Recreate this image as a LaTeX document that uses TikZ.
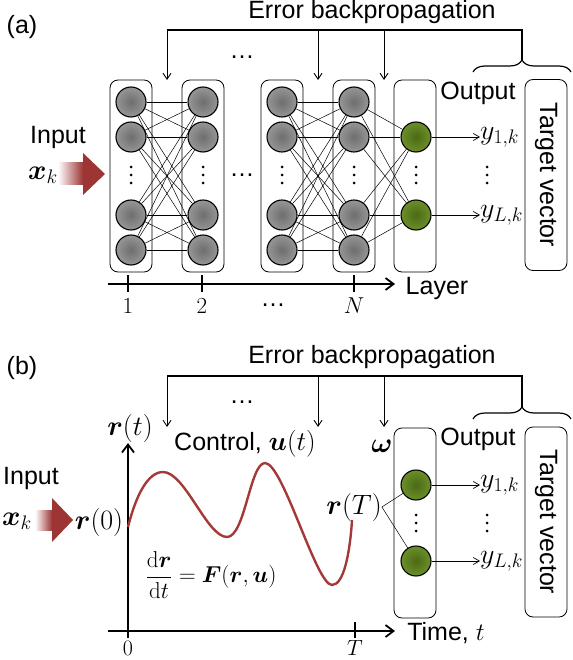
\RequirePackage{fix-cm}
\documentclass[tikz,border=0pt]{standalone}
\usepackage{amsmath}
\usepackage[no-math]{fontspec}
\setmainfont{Liberation Sans}
\usetikzlibrary{arrows.meta,decorations.pathreplacing}
\definecolor{nodeinner}{HTML}{6E6E6E}
\definecolor{nodeouter}{HTML}{969696}
\definecolor{greeninner}{HTML}{4A6A14}
\definecolor{greenouter}{HTML}{6C8F2A}
\definecolor{arrowred}{HTML}{9C3533}
\definecolor{curvered}{HTML}{A43A38}
\newcommand{\vb}[1]{\boldsymbol{#1}}

\begin{document}
\begin{tikzpicture}[x=1pt,y=-1pt,
  every node/.style={font=\fontsize{25}{29}\selectfont,inner sep=0pt},
  neuron/.style={circle,draw,line width=1.1pt,minimum size=30pt,inner color=nodeinner,outer color=nodeouter},
  outneuron/.style={neuron,inner color=greeninner,outer color=greenouter},
  layerbox/.style={draw,line width=0.8pt,rounded corners=8pt,minimum width=42pt},
  targetbox/.style={draw,line width=0.8pt,rounded corners=8pt,minimum height=42pt,rotate=-90},
  link/.style={line width=0.5pt},
  feedback/.style={line width=1.2pt},
  fbarrow/.style={line width=0.9pt,-{Straight Barb[length=6pt,width=8pt]}},
  outarrow/.style={line width=0.7pt,-{Straight Barb[length=6pt,width=7pt]}},
  axis/.style={line width=1.8pt,-{Straight Barb[length=8pt,width=12pt]}},
  tick/.style={line width=1.8pt},
  mathlabel/.style={font=\fontsize{28}{32}\selectfont},
  ticklabel/.style={font=\fontsize{23}{27}\selectfont},
  vdots/.pic={\fill (0,-8) circle (1.5pt) (0,0) circle (1.5pt) (0,8) circle (1.5pt);},
  brace/.style={decorate,decoration={brace,amplitude=12pt},line width=1.2pt},
  curve/.style={draw=curvered,line width=2.4pt}
]
\useasboundingbox (0,0) rectangle (572,660);

% ---------- (a) layered network
\node (labela) at (22,27) {(a)};
\node (errora) at (372,12) {Error backpropagation};
\node (topdotsa) at (242,57) {\dots};

\foreach \l/\x in {1/131,2/203,3/282,4/354}{
  \node[layerbox,minimum height=192pt] (boxa\l) at (\x,176) {};
  \foreach \r/\y in {1/102,2/137,3/215,4/250}
    \node[neuron] (a\l-\r) at (\x,\y) {};
  \pic at (\x,175) {vdots};
}
\node[layerbox,minimum height=192pt] (boxa5) at (415,176) {};
\node[outneuron] (ao-1) at (416,137) {};
\node[outneuron] (ao-2) at (416,215) {};
\pic at (416,175) {vdots};
\node (hdotsa) at (242,175) {\dots};

\foreach \i in {1,...,4}
  \foreach \j in {1,...,4}{
    \draw[link] (a1-\i) -- (a2-\j);
    \draw[link] (a3-\i) -- (a4-\j);
  }
\foreach \i in {1,...,4}
  \foreach \j in {1,2}
    \draw[link] (a4-\i) -- (ao-\j);

% outputs and target
\node (outputa) at (478,93) {Output};
\node[mathlabel,anchor=west] (ya-1) at (480,137) {$y_{1,k}$};
\node[mathlabel,anchor=west] (ya-2) at (480,215) {$y_{L,k}$};
\pic at (487,175) {vdots};
\draw[outarrow] (ao-1) -- (ya-1);
\draw[outarrow] (ao-2) -- (ya-2);
\node[targetbox,minimum width=191pt] (targeta) at (546,175) {Target vector};

% input
\node (inputa) at (58,137) {Input};
\node[mathlabel] (xka) at (43,175) {$\vb{x}_k$};
\shade[left color=white,right color=arrowred] (58,163) rectangle (83,185);
\fill[arrowred] (83,153) -- (105,174) -- (83,195) -- cycle;

% feedback line
\coordinate (fba-0) at (167,30);
\coordinate (fba-1) at (318,30);
\coordinate (fba-2) at (384,30);
\coordinate (fba-3) at (522,30);
\coordinate (bracetipa) at (522,60);
\draw[brace] (473,72) -- (571,72);
\draw[feedback] (bracetipa) -- (fba-3) -- (fba-0);
\draw[fbarrow] (fba-0) -- (167,80);
\draw[fbarrow] (fba-1) -- (318,80);
\draw[fbarrow] (fba-2) -- (384,80);

% layer axis
\node (layerlabel) at (437,288) {Layer};
\draw[axis] (108,284) -- (395,284);
\foreach \x in {128,202,354}
  \draw[tick] (\x,275) -- (\x,292);
\node[ticklabel] (tick-1) at (128,306) {$1$};
\node[ticklabel] (tick-2) at (202,306) {$2$};
\node (tick-dots) at (273,305) {\dots};
\node[ticklabel] (tick-N) at (354,306) {$N$};

% ---------- (b) continuous dynamics
\node (labelb) at (22,368) {(b)};
\node (errorb) at (372,357) {Error backpropagation};
\node (topdotsb) at (242,402) {\dots};

\coordinate (fbb-0) at (167,376);
\coordinate (fbb-1) at (318,376);
\coordinate (fbb-2) at (384,376);
\coordinate (fbb-3) at (522,376);
\coordinate (bracetipb) at (522,407);
\draw[brace] (473,419) -- (571,419);
\draw[feedback] (bracetipb) -- (fbb-3) -- (fbb-0);
\draw[fbarrow] (fbb-0) -- (167,427);
\draw[fbarrow] (fbb-1) -- (318,427);
\draw[fbarrow] (fbb-2) -- (384,427);

% axes
\draw[axis] (128,638) -- (128,443);
\draw[axis] (108,631) -- (395,631);
\draw[tick] (355,622) -- (355,638);
\node[ticklabel,font=\fontsize{22}{26}\selectfont] (zero) at (128,648) {$0$};
\node[ticklabel,font=\fontsize{22}{26}\selectfont] (tickT) at (355,648) {$T$};
\node (timelabel) at (446,633) {Time, $t$};
\node[mathlabel] (rt) at (130,428) {$\vb{r}(t)$};
\node (control) at (245,444) {Control, {\fontsize{27}{31}\selectfont$\vb{u}(t)$}};
\node[mathlabel] (omega) at (382,446) {$\vb{\omega}$};

% trajectory
\draw[curve] (128,527) .. controls (136,495) and (148,472) .. (163,472)
  .. controls (185,472) and (207,537) .. (227,537)
  .. controls (245,537) and (250,463) .. (265,463)
  .. controls (283,463) and (316,585) .. (332,585)
  .. controls (344,585) and (350,552) .. (352,520);
\node[ticklabel] (ode) at (211,575) {$\dfrac{\mathrm{d}\vb{r}}{\mathrm{d}t}=\vb{F}(\vb{r},\vb{u})$};

% input
\node (inputb) at (31,478) {Input};
\node[mathlabel] (xkb) at (17,521) {$\vb{x}_k$};
\shade[left color=white,right color=arrowred] (35,510) rectangle (52,530);
\fill[arrowred] (52,498) -- (73,520) -- (52,542) -- cycle;
\node[mathlabel] (rzero) at (99,522) {$\vb{r}(0)$};

% readout
\node[layerbox,minimum height=190pt] (boxb) at (415,523) {};
\node[outneuron] (bo-1) at (416,485) {};
\node[outneuron] (bo-2) at (416,561) {};
\pic at (416,523) {vdots};
\node[mathlabel] (rT) at (354,507) {$\vb{r}(T)$};
\draw[link] (rT.east) -- (bo-1);
\draw[link] (rT.east) -- (bo-2);

\node (outputb) at (478,439) {Output};
\node[mathlabel,anchor=west] (yb-1) at (480,485) {$y_{1,k}$};
\node[mathlabel,anchor=west] (yb-2) at (480,561) {$y_{L,k}$};
\pic at (487,523) {vdots};
\draw[outarrow] (bo-1) -- (yb-1);
\draw[outarrow] (bo-2) -- (yb-2);
\node[targetbox,minimum width=190pt] (targetb) at (546,522) {Target vector};
\end{tikzpicture}
\end{document}
